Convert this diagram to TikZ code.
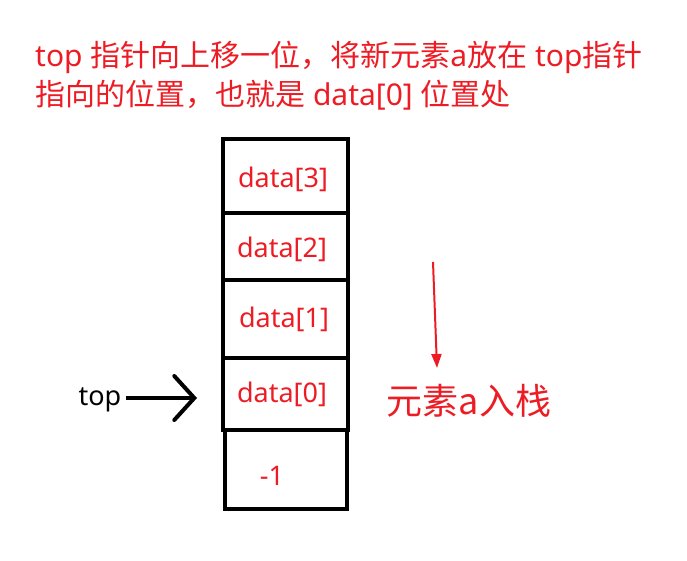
\documentclass[tikz,border=0pt]{standalone}
\usepackage{fontspec}
\setmainfont{Noto Sans}
\newfontfamily\cjk{Noto Sans CJK SC}
\usetikzlibrary{arrows.meta}
\definecolor{myred}{RGB}{237,28,36}
\tikzset{
  cell/.style={draw=black, line width=4pt, inner sep=0pt, minimum width=125pt},
  celltext/.style={text=myred, font=\fontsize{27pt}{30pt}\selectfont, inner sep=0pt},
  title/.style={text=myred, font=\fontsize{30pt}{34pt}\selectfont, inner sep=0pt, anchor=base west},
}
\begin{document}
\begin{tikzpicture}[x=1pt,y=1pt]
\useasboundingbox (0,0) rectangle (687,-560);
% title
\node[title] (t1) at (35,-66) {top {\cjk 指针向上移一位，将新元素}a{\cjk 放在} top{\cjk 指针}};
\node[title] (t2) at (35,-105) {{\cjk 指向的位置，也就是} data[0] {\cjk 位置处}};
% cells
\node[cell, minimum height=74pt] (c3) at (285.5,-176) {};
\node[cell, minimum height=67pt] (c2) at (285.5,-246.5) {};
\node[cell, minimum height=78pt] (c1) at (285.5,-319) {};
\node[cell, minimum height=72pt] (c0) at (285.5,-394) {};
\node[cell, minimum height=79pt, minimum width=122pt] (cm) at (286,-469.5) {};
% cell labels
\node[celltext] (l3) at (283,-179) {data[3]};
\node[celltext] (l2) at (282,-249) {data[2]};
\node[celltext] (l1) at (284,-319) {data[1]};
\node[celltext] (l0) at (282,-394) {data[0]};
\node[celltext] (lm) at (272,-476) {-1};
% top pointer
\node[font=\fontsize{27pt}{30pt}\selectfont, inner sep=0pt] (top) at (100,-400) {top};
\coordinate (tip) at (197,-398);
\draw[line width=3.5pt, -{Straight Barb[length=20pt,width=44pt,line width=4pt,line cap=round]}] ([xshift=4pt]top.east |- tip) -- (tip);
% push arrow and label
\coordinate (ra) at (433,-262);
\coordinate (rb) at (437,-368);
\draw[myred, line width=2pt, -{Triangle[length=14pt,width=10pt]}] (ra) -- (rb);
\node[text=myred, font=\cjk\fontsize{36pt}{40pt}\selectfont, inner sep=0pt] (push) at (469,-401) {元素a入栈};
\end{tikzpicture}
\end{document}
